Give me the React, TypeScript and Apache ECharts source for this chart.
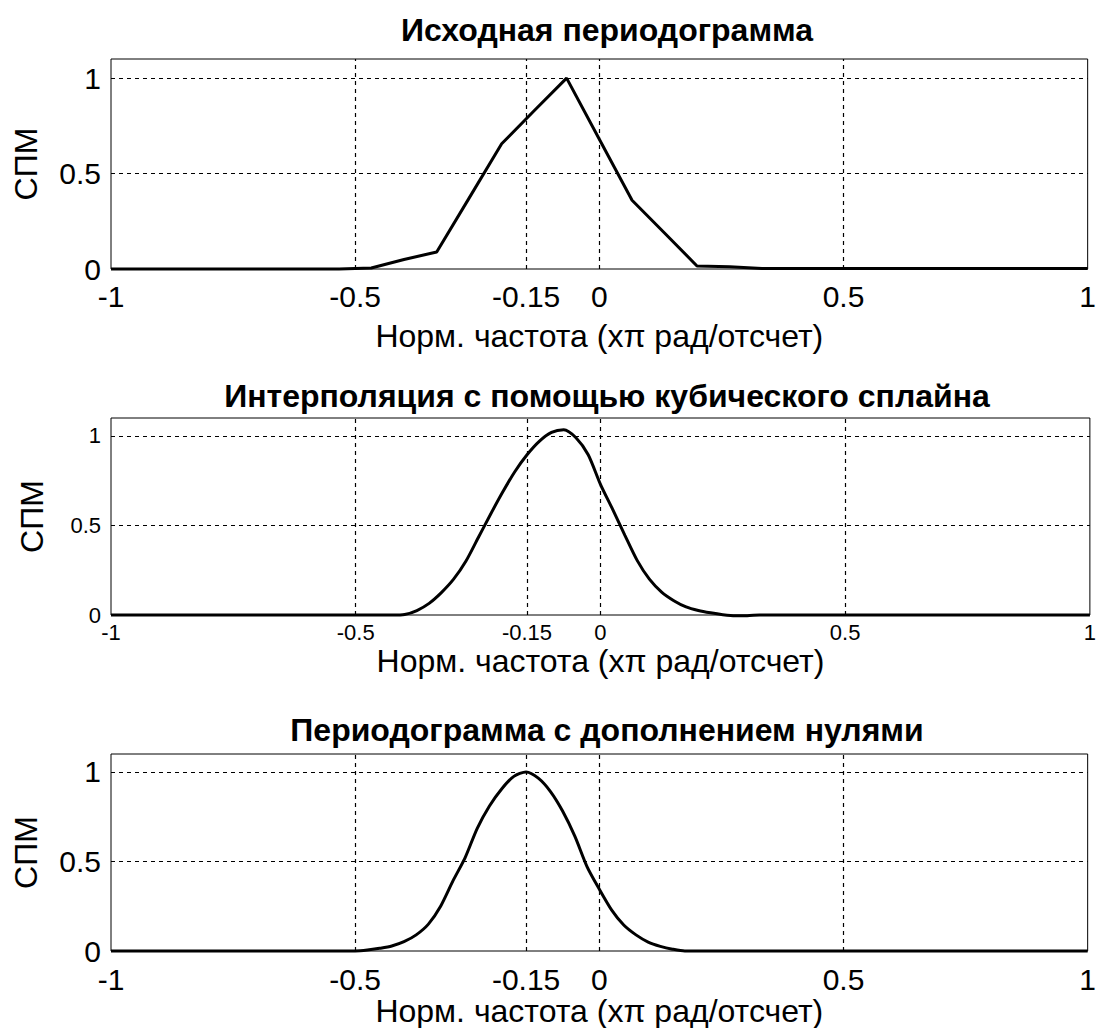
import React, { useEffect, useRef } from "react";
import * as echarts from "echarts";

// ---- Data ----
const xTickValues = [-1, -0.5, -0.15, 0, 0.5, 1];
const yTickValues = [0, 0.5, 1];
const xGridValues = [-0.5, -0.15, 0, 0.5];
const yGridValues = [0.5, 1];

const titles = [
  "Исходная периодограмма",
  "Интерполяция с помощью кубического сплайна",
  "Периодограмма с дополнением нулями",
];
const xName = "Норм. частота (xπ рад/отсчет)";
const yName = "СПМ";

// Panel 1: original periodogram
const freq1 = [-1, -0.533, -0.467, -0.4, -0.333, -0.267, -0.2, -0.133, -0.067, 0, 0.067, 0.133, 0.2, 0.267, 0.333, 1];
const psd1 = [0, 0, 0.005, 0.05, 0.089, 0.37, 0.656, 0.83, 1.0, 0.68, 0.36, 0.19, 0.016, 0.012, 0.002, 0.002];

// Panel 2: cubic spline interpolation
const freq2 = [-1, -0.45, -0.425, -0.4, -0.375, -0.35, -0.325, -0.3, -0.275, -0.25, -0.225, -0.2, -0.175, -0.15, -0.125, -0.1, -0.075, -0.05, -0.025, 0, 0.025, 0.05, 0.075, 0.1, 0.125, 0.15, 0.175, 0.2, 0.225, 0.25, 0.275, 0.3, 0.325, 0.35, 1];
const psd2 = [0, 0, 0, 0.003, 0.025, 0.065, 0.125, 0.2, 0.3, 0.43, 0.56, 0.685, 0.8, 0.895, 0.97, 1.02, 1.035, 0.99, 0.895, 0.73, 0.59, 0.445, 0.305, 0.2, 0.128, 0.08, 0.045, 0.025, 0.012, 0.002, -0.004, -0.004, 0, 0, 0];

// Panel 3: zero-padded periodogram
const freq3 = [-1, -0.5, -0.475, -0.45, -0.425, -0.4, -0.375, -0.35, -0.325, -0.3, -0.275, -0.25, -0.225, -0.2, -0.175, -0.15, -0.125, -0.1, -0.075, -0.05, -0.025, 0, 0.025, 0.05, 0.075, 0.1, 0.125, 0.15, 0.175, 1];
const psd3 = [0, 0, 0.005, 0.015, 0.028, 0.052, 0.09, 0.15, 0.25, 0.39, 0.52, 0.685, 0.81, 0.905, 0.975, 1.0, 0.965, 0.89, 0.78, 0.64, 0.47, 0.345, 0.23, 0.145, 0.09, 0.05, 0.026, 0.01, 0, 0];

const FONT = "'Liberation Sans', Arial, sans-serif";

const panels = [
  { top: 59, height: 210, tickFont: 30, tickMargin: 12, nameGap: 51, titleTop: 9, yNameGap: 69, smooth: false },
  { top: 418, height: 197, tickFont: 22, tickMargin: 6, nameGap: 30, titleTop: 375, yNameGap: 63, smooth: true },
  { top: 754, height: 197, tickFont: 30, tickMargin: 13, nameGap: 35, titleTop: 709, yNameGap: 69, smooth: true },
];

function buildOption() {
  const pairs = [
    freq1.map((f, i) => [f, psd1[i]]),
    freq2.map((f, i) => [f, psd2[i]]),
    freq3.map((f, i) => [f, psd3[i]]),
  ];
  const grid = panels.map((p) => ({
    left: 111,
    right: 6,
    top: p.top,
    height: p.height,
    show: true,
    borderColor: "#000",
    borderWidth: 1,
    backgroundColor: "#fff",
    containLabel: false,
  }));
  const title = panels.map((p, i) => ({
    text: titles[i],
    left: 602,
    top: p.titleTop,
    textAlign: "center",
    textStyle: { fontFamily: FONT, fontWeight: "bold", fontSize: 32, color: "#000" },
  }));
  const xAxis = panels.map((p, i) => ({
    type: "value",
    gridIndex: i,
    min: -1,
    max: 1,
    name: xName,
    nameLocation: "middle",
    nameGap: p.nameGap,
    nameTextStyle: { fontFamily: FONT, fontSize: 32, color: "#000" },
    axisLine: { show: false },
    axisTick: { show: false },
    splitLine: { show: false },
    axisLabel: {
      customValues: xTickValues,
      margin: p.tickMargin,
      fontFamily: FONT,
      fontSize: p.tickFont,
      color: "#000",
      showMinLabel: true,
      showMaxLabel: true,
      hideOverlap: false,
    },
  }));
  const yAxis = panels.map((p, i) => ({
    type: "value",
    gridIndex: i,
    min: 0,
    max: 1.1,
    name: yName,
    nameLocation: "middle",
    nameGap: p.yNameGap,
    nameTextStyle: { fontFamily: FONT, fontSize: 32, color: "#000" },
    axisLine: { show: false },
    axisTick: { show: false },
    splitLine: { show: false },
    axisLabel: {
      customValues: yTickValues,
      margin: 10,
      fontFamily: FONT,
      fontSize: p.tickFont,
      color: "#000",
    },
  }));
  const gridLineStyle = { color: "#000", width: 1.2, type: [4, 4], opacity: 1 };
  const series: any[] = [];
  panels.forEach((p, i) => {
    series.push({
      type: "line",
      xAxisIndex: i,
      yAxisIndex: i,
      data: [],
      silent: true,
      z: 1,
      markLine: {
        silent: true,
        symbol: "none",
        label: { show: false },
        lineStyle: gridLineStyle,
        emphasis: { disabled: true },
        data: [
          ...xGridValues.map((v) => ({ xAxis: v })),
          ...yGridValues.map((v) => ({ yAxis: v })),
        ],
      },
    });
    series.push({
      type: "line",
      xAxisIndex: i,
      yAxisIndex: i,
      data: pairs[i],
      showSymbol: false,
      symbol: "none",
      clip: false,
      smooth: p.smooth ? 0.25 : false,
      z: 3,
      lineStyle: { color: "#000", width: 3 },
    });
  });
  return { animation: false, backgroundColor: "#fff", title, grid, xAxis, yAxis, series };
}

export default function App() {
  const ref = useRef<HTMLDivElement>(null);
  useEffect(() => {
    if (!ref.current) return;
    const chart = echarts.init(ref.current, null, { renderer: "svg" });
    chart.setOption(buildOption() as any);
    return () => chart.dispose();
  }, []);
  return (
    <div
      ref={ref}
      style={{ position: "fixed", left: 0, top: 0, width: 1099, height: 1028, background: "#fff" }}
    />
  );
}
